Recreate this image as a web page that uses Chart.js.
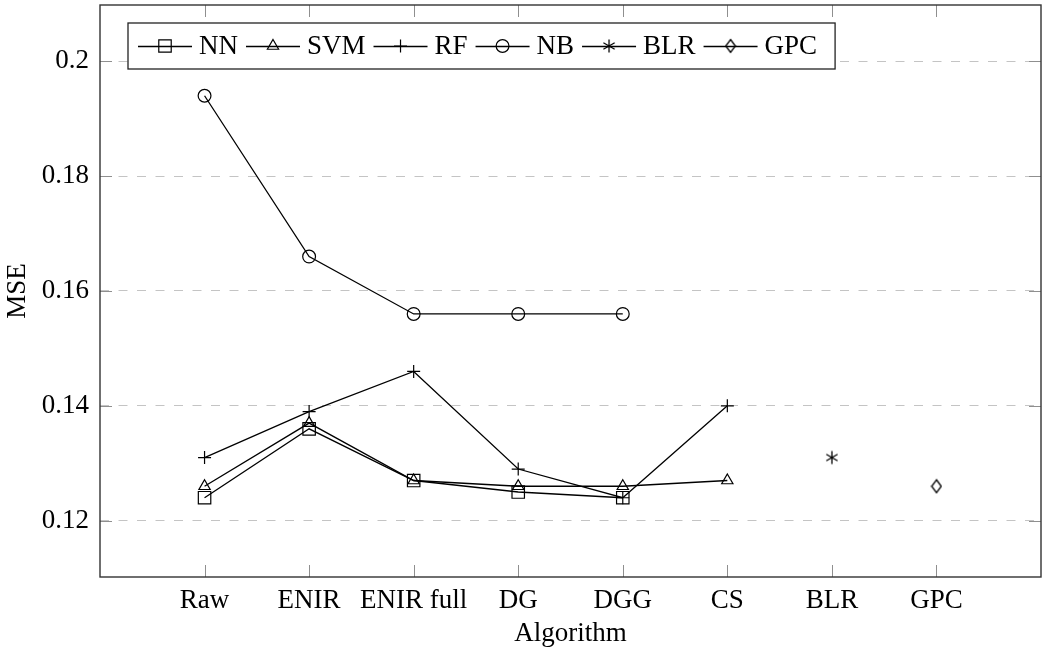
<!DOCTYPE html>
<html>
<head>
<meta charset="utf-8">
<script src="https://cdn.jsdelivr.net/npm/chart.js@4/dist/chart.umd.min.js"></script>
<style>html,body{margin:0;padding:0;background:#fff}canvas{display:block}</style>
</head>
<body>
<canvas id="c" width="1044" height="650"></canvas>
<script>
// ---- data ----
const categories = ['Raw', 'ENIR', 'ENIR full', 'DG', 'DGG', 'CS', 'BLR', 'GPC'];
const yTickValues = [0.12, 0.14, 0.16, 0.18, 0.2];
const yTickLabels = ['0.12', '0.14', '0.16', '0.18', '0.2'];
const seriesNames = ['NN', 'SVM', 'RF', 'NB', 'BLR', 'GPC'];
const nnValues  = [0.124, 0.136, 0.127, 0.125, 0.124];         // Raw..DGG
const svmValues = [0.126, 0.137, 0.127, 0.126, 0.126, 0.127];  // Raw..CS
const rfValues  = [0.131, 0.139, 0.146, 0.129, 0.124, 0.140];  // Raw..CS
const nbValues  = [0.194, 0.166, 0.156, 0.156, 0.156];         // Raw..DGG
const blrValues = [0.131];                                      // BLR
const gpcValues = [0.126];                                      // GPC
const nnStart = 'Raw', svmStart = 'Raw', rfStart = 'Raw', nbStart = 'Raw', blrStart = 'BLR', gpcStart = 'GPC';

// ---- helpers ----
function toPoints(values, startCat) {
  const s = categories.indexOf(startCat);
  return values.map((v, i) => ({ x: s + i, y: v }));
}
function makeDiamond() {
  const c = document.createElement('canvas'); c.width = 12; c.height = 16;
  const g = c.getContext('2d');
  g.strokeStyle = '#000'; g.lineWidth = 1.3;
  g.beginPath(); g.moveTo(6, 1.5); g.lineTo(10.8, 8); g.lineTo(6, 14.5); g.lineTo(1.2, 8); g.closePath(); g.stroke();
  return c;
}
function makeAsterisk() {
  const c = document.createElement('canvas'); c.width = 16; c.height = 16;
  const g = c.getContext('2d');
  g.strokeStyle = '#000'; g.lineWidth = 1.3;
  g.beginPath();
  for (let k = 0; k < 3; k++) {
    const a = Math.PI / 2 + k * Math.PI / 3;
    g.moveTo(8 + Math.cos(a) * 6.5, 8 - Math.sin(a) * 6.5);
    g.lineTo(8 - Math.cos(a) * 6.5, 8 + Math.sin(a) * 6.5);
  }
  g.stroke();
  return c;
}
const FONT = '"Liberation Serif", "Times New Roman", serif';
const FS = 27;

function ds(label, data, style, radius) {
  return {
    label, data,
    borderColor: '#000', borderWidth: 1.3,
    pointStyle: style, pointRadius: radius,
    pointBorderColor: '#000', pointBackgroundColor: 'rgba(0,0,0,0)', pointBorderWidth: 1.2,
    showLine: true, fill: false, tension: 0
  };
}

const datasets = [
  ds(seriesNames[0], toPoints(nnValues, nnStart), 'rect', 8.8),
  ds(seriesNames[1], toPoints(svmValues, svmStart), 'triangle', 6.5),
  ds(seriesNames[2], toPoints(rfValues, rfStart), 'cross', 6.5),
  ds(seriesNames[3], toPoints(nbValues, nbStart), 'circle', 6.4),
  ds(seriesNames[4], toPoints(blrValues, blrStart), makeAsterisk(), 7),
  ds(seriesNames[5], toPoints(gpcValues, gpcStart), makeDiamond(), 7)
];

const framePlugin = {
  id: 'frame',
  afterDraw(chart) {
    const { ctx, chartArea: a, scales: { x, y } } = chart;
    ctx.save();
    // inward ticks
    ctx.strokeStyle = '#8f8f8f'; ctx.lineWidth = 1; ctx.setLineDash([]);
    ctx.beginPath();
    x.ticks.forEach(t => {
      const px = Math.round(x.getPixelForValue(t.value)) + 0.5;
      ctx.moveTo(px, a.bottom); ctx.lineTo(px, a.bottom - 12);
      ctx.moveTo(px, a.top); ctx.lineTo(px, a.top + 12);
    });
    y.ticks.forEach(t => {
      const py = Math.round(y.getPixelForValue(t.value)) + 0.5;
      ctx.moveTo(a.left, py); ctx.lineTo(a.left + 12, py);
      ctx.moveTo(a.right, py); ctx.lineTo(a.right - 12, py);
    });
    ctx.stroke();
    // frame
    ctx.strokeStyle = '#333'; ctx.lineWidth = 1.4;
    ctx.strokeRect(a.left, a.top, a.right - a.left, a.bottom - a.top);

    // legend
    ctx.font = FS + 'px ' + FONT;
    const lineLen = 54, textGap = 7, entryGap = 8;
    const left = 128, top = 23, h = 46, cy = top + h / 2;
    let cx = left + 10;
    const items = [];
    chart.data.datasets.forEach(d => {
      const w = ctx.measureText(d.label).width;
      items.push({ d, x: cx, w });
      cx += lineLen + textGap + w + entryGap;
    });
    const right = cx - entryGap + 18;
    ctx.fillStyle = '#fff';
    ctx.fillRect(left, top, right - left, h);
    ctx.strokeStyle = '#222'; ctx.lineWidth = 1.3;
    ctx.strokeRect(left, top, right - left, h);
    items.forEach(it => {
      ctx.strokeStyle = '#000'; ctx.lineWidth = 1.3;
      ctx.beginPath(); ctx.moveTo(it.x, cy + 0.5); ctx.lineTo(it.x + lineLen, cy + 0.5); ctx.stroke();
      ctx.fillStyle = 'rgba(0,0,0,0)'; ctx.strokeStyle = '#000'; ctx.lineWidth = 1.2;
      Chart.helpers.drawPoint(ctx, { pointStyle: it.d.pointStyle, radius: it.d.pointRadius, rotation: 0, borderWidth: 1.2 }, it.x + lineLen / 2, cy);
      ctx.fillStyle = '#000'; ctx.textBaseline = 'middle'; ctx.textAlign = 'left';
      ctx.fillText(it.d.label, it.x + lineLen + textGap, cy + 1);
    });
    ctx.restore();
  }
};

new Chart(document.getElementById('c'), {
  type: 'scatter',
  data: { datasets },
  options: {
    responsive: false,
    animation: false,
    events: [],
    devicePixelRatio: 1,
    layout: { autoPadding: false, padding: { left: 0, top: 5, right: 3, bottom: 0 } },
    plugins: { legend: { display: false }, tooltip: { enabled: false } },
    scales: {
      x: {
        type: 'linear', min: -1, max: 8,
        afterBuildTicks: s => { s.ticks = categories.map((c, i) => ({ value: i })); },
        afterFit: s => { s.height = 73; s.paddingLeft = 0; s.paddingRight = 0; },
        grid: { display: false, drawTicks: false },
        border: { display: false },
        ticks: {
          autoSkip: false, maxRotation: 0, padding: 8, color: '#000',
          font: { family: FONT, size: FS },
          callback: v => categories[v] !== undefined ? categories[v] : ''
        },
        title: { display: true, text: 'Algorithm', color: '#000', font: { family: FONT, size: FS }, padding: { top: 0, bottom: 0 } }
      },
      y: {
        min: 0.1102, max: 0.2098,
        afterBuildTicks: s => { s.ticks = yTickValues.map(v => ({ value: v })); },
        afterFit: s => { s.width = 100; s.paddingTop = 0; s.paddingBottom = 0; },
        grid: { color: '#c4c4c4', lineWidth: 1, drawTicks: false },
        border: { display: false, dash: [9, 9.5] },
        ticks: {
          padding: 11, color: '#000',
          font: { family: FONT, size: FS },
          callback: (v, i) => yTickLabels[i]
        },
        title: { display: true, text: 'MSE', color: '#000', font: { family: FONT, size: FS }, padding: { top: 2, bottom: 0 } }
      }
    }
  },
  plugins: [framePlugin]
});
</script>
</body>
</html>
